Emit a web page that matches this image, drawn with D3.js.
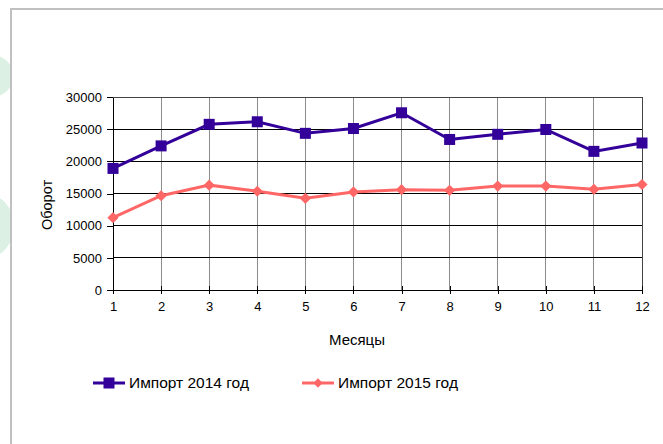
<!DOCTYPE html>
<meta charset="utf-8">
<style>
    body { margin: 0; background: #fff; }
    text { font-family: "Liberation Sans", Arial, sans-serif; fill: #000; }
    .axis path, .axis line { stroke: #000; }
    .axis text { font-size: 13px; font-family: "Liberation Sans", Arial, sans-serif; }
</style>
<svg width="663" height="444"></svg>
<script src="https://cdn.jsdelivr.net/npm/d3@7"></script>
<script>

    // months and the two import series
    var months = [1, 2, 3, 4, 5, 6, 7, 8, 9, 10, 11, 12];
    var import2014 = [18900, 22400, 25750, 26150, 24350, 25100, 27550, 23400, 24200, 24950, 21550, 22850];
    var import2015 = [11250, 14650, 16300, 15350, 14250, 15250, 15600, 15500, 16150, 16150, 15650, 16400];
    var yTicks = [0, 5000, 10000, 15000, 20000, 25000, 30000];
    var seriesNames = ["Импорт 2014 год", "Импорт 2015 год"];

    var svg = d3.select("svg"),
        width = +svg.attr("width"),
        height = +svg.attr("height");

    var pLeft = 113, pRight = 642, pTop = 97, pBottom = 290;

    // faint green shapes behind the frame
    var bg = svg.append("g");
    bg.append("ellipse").attr("cx", -12).attr("cy", 76).attr("rx", 26).attr("ry", 22).attr("fill", "#dcf0e4");
    bg.append("ellipse").attr("cx", -14).attr("cy", 226).attr("rx", 28).attr("ry", 32).attr("fill", "#dcf0e4");

    // frame
    svg.append("rect")
        .attr("x", 11).attr("y", 9)
        .attr("width", width + 20).attr("height", height + 20)
        .attr("fill", "#fff")
        .attr("stroke", "#c0c0c0")
        .attr("stroke-width", 2);

    var x = d3.scaleLinear().domain([1, 12]).range([pLeft, pRight]);
    var y = d3.scaleLinear().domain([0, 30000]).range([pBottom, pTop]);

    // grid
    svg.append("g").selectAll("line")
        .data(months.slice(1))
        .enter().append("line")
        .attr("x1", function(d) { return x(d); }).attr("x2", function(d) { return x(d); })
        .attr("y1", pTop).attr("y2", pBottom)
        .attr("stroke", function(d) { return d === 12 ? "#444" : "#8c8c8c"; })
        .attr("stroke-width", 1)
        .attr("shape-rendering", "crispEdges");

    svg.append("g").selectAll("line")
        .data(yTicks.slice(1))
        .enter().append("line")
        .attr("x1", pLeft).attr("x2", pRight)
        .attr("y1", function(d) { return y(d); }).attr("y2", function(d) { return y(d); })
        .attr("stroke", function(d) { return d === 30000 ? "#444" : "#000"; })
        .attr("stroke-width", 1)
        .attr("shape-rendering", "crispEdges");

    var xAxis = d3.axisBottom(x).tickValues(months).tickSize(4).tickPadding(8).tickSizeOuter(0);
    var yAxis = d3.axisLeft(y).tickValues(yTicks).tickFormat(d3.format("d"))
        .tickSize(6).tickPadding(5).tickSizeOuter(0);

    var gX = svg.append("g")
        .attr("class", "axis")
        .attr("transform", "translate(0," + pBottom + ")")
        .call(xAxis)
        .attr("shape-rendering", "crispEdges");
    gX.selectAll(".tick line").attr("y1", -4).attr("y2", 4);

    svg.append("g")
        .attr("class", "axis")
        .attr("transform", "translate(" + pLeft + ",0)")
        .call(yAxis)
        .attr("shape-rendering", "crispEdges");

    var line = d3.line()
        .x(function(d, i) { return x(months[i]); })
        .y(function(d) { return y(d); });

    var colors = ["#330099", "#ff6666"];

    // 2015 series
    svg.append("path")
        .datum(import2015)
        .attr("d", line)
        .attr("fill", "none")
        .attr("stroke", colors[1])
        .attr("stroke-width", 3);

    svg.append("g").selectAll("path")
        .data(import2015)
        .enter().append("path")
        .attr("d", d3.symbol().type(d3.symbolDiamond2).size(80))
        .attr("transform", function(d, i) { return "translate(" + x(months[i]) + "," + y(d) + ")"; })
        .attr("fill", colors[1]);

    // 2014 series
    svg.append("path")
        .datum(import2014)
        .attr("d", line)
        .attr("fill", "none")
        .attr("stroke", colors[0])
        .attr("stroke-width", 3);

    svg.append("g").selectAll("rect")
        .data(import2014)
        .enter().append("rect")
        .attr("x", function(d, i) { return x(months[i]) - 5.5; })
        .attr("y", function(d) { return y(d) - 5.5; })
        .attr("width", 11).attr("height", 11)
        .attr("fill", colors[0]);

    // axis titles
    svg.append("text")
        .attr("x", 357).attr("y", 345)
        .attr("text-anchor", "middle")
        .style("font-size", "15px")
        .text("Месяцы");

    svg.append("text")
        .attr("text-anchor", "middle")
        .attr("transform", "translate(52,205)rotate(-90)")
        .style("font-size", "14.5px")
        .text("Оборот");

    // legend
    var legend = svg.append("g").selectAll("g")
        .data(seriesNames)
        .enter().append("g")
        .attr("transform", function(d, i) { return "translate(" + (93 + i * 209) + ",383)"; });

    legend.append("line")
        .attr("x1", 0).attr("x2", 32)
        .attr("stroke", function(d, i) { return colors[i]; })
        .attr("stroke-width", 3);

    legend.append("path")
        .attr("transform", "translate(16,0)")
        .attr("d", function(d, i) {
            return i === 0 ? "M-5.5,-5.5H5.5V5.5H-5.5Z" : d3.symbol().type(d3.symbolDiamond2).size(55)();
        })
        .attr("fill", function(d, i) { return colors[i]; });

    legend.append("text")
        .attr("x", 36).attr("dy", "0.35em")
        .style("font-size", "15.5px")
        .text(function(d) { return d; });

</script>
